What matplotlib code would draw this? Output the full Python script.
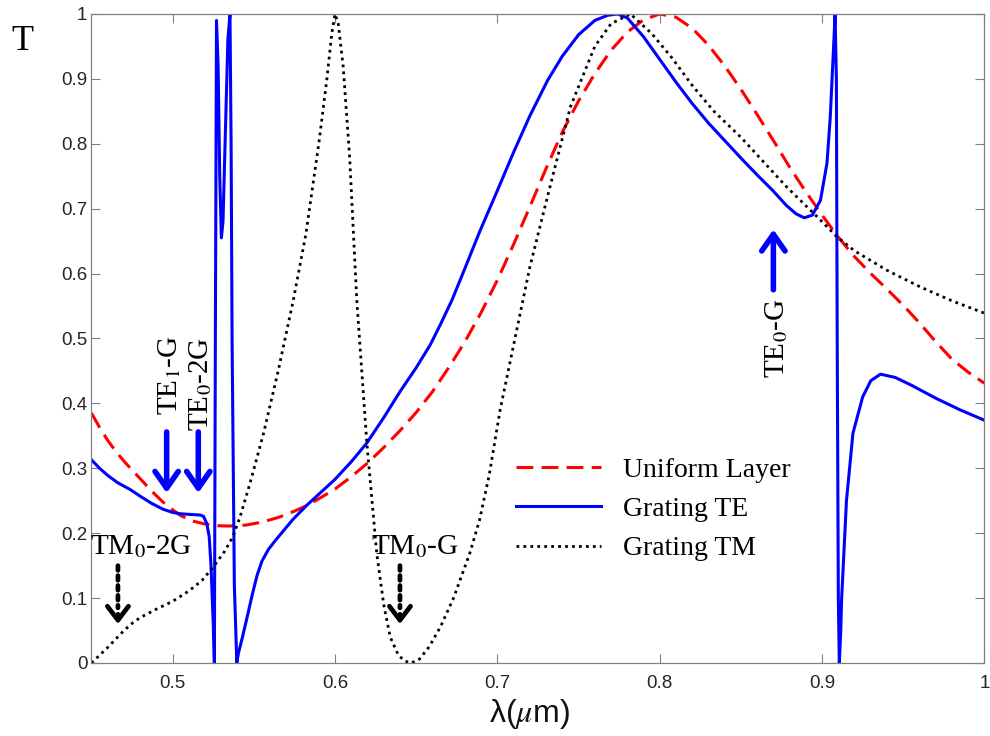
import matplotlib
matplotlib.use("Agg")
import matplotlib.pyplot as plt

# ---------------- data ----------------
uni_wl = [0.450, 0.455, 0.460, 0.465, 0.470, 0.474, 0.480, 0.487, 0.494, 0.500,
          0.505, 0.512, 0.520, 0.528, 0.535, 0.545, 0.555, 0.566, 0.575, 0.583,
          0.590, 0.600, 0.610, 0.620, 0.630, 0.640, 0.650, 0.660, 0.670, 0.680,
          0.690, 0.700, 0.710, 0.720, 0.730, 0.740, 0.750, 0.760, 0.770,
          0.780, 0.790, 0.800, 0.810, 0.820, 0.830, 0.840, 0.850, 0.860, 0.870,
          0.880, 0.890, 0.900, 0.910, 0.920, 0.930, 0.940, 0.950, 0.960, 0.970,
          0.980, 0.990, 1.000]
uni_T = [0.385, 0.363, 0.343, 0.326, 0.311, 0.300, 0.284, 0.265, 0.248, 0.236,
         0.227, 0.219, 0.214, 0.2115, 0.211, 0.2125, 0.217, 0.225, 0.234, 0.243,
         0.253, 0.268, 0.287, 0.308, 0.332, 0.358, 0.386, 0.418, 0.455, 0.495,
         0.540, 0.590, 0.645, 0.703, 0.762, 0.818, 0.866, 0.908, 0.944,
         0.972, 0.991, 1.000, 0.995, 0.978, 0.952, 0.920, 0.884, 0.845, 0.805,
         0.764, 0.726, 0.690, 0.656, 0.626, 0.600, 0.576, 0.551, 0.524, 0.495,
         0.468, 0.448, 0.431]

te_wl = [0.450, 0.455, 0.460, 0.466, 0.474, 0.480, 0.487, 0.494, 0.500, 0.5045,
         0.510, 0.5169, 0.519, 0.521, 0.5225, 0.5236, 0.5250, 0.5257, 0.5263, 0.5270,
         0.5280, 0.5290, 0.5300, 0.5310, 0.5325, 0.5340, 0.5353, 0.5360, 0.5366, 0.5380,
         0.5395, 0.5405, 0.5430, 0.5460, 0.5490, 0.5520, 0.5550, 0.5590, 0.5630, 0.5680,
         0.5740, 0.5826, 0.5900, 0.6000, 0.6100, 0.6196, 0.6300, 0.6400, 0.6500, 0.6586,
         0.6650, 0.6720, 0.6800, 0.6890, 0.7000, 0.7100, 0.7200, 0.7310, 0.7400, 0.7500,
         0.7600, 0.7680, 0.7740, 0.7800, 0.7900, 0.8000, 0.8100, 0.8200, 0.8300, 0.8400,
         0.8500, 0.8600, 0.8700, 0.8780, 0.8840, 0.8890, 0.8940, 0.8990, 0.9030, 0.9050,
         0.9070, 0.9080, 0.9088, 0.9093, 0.9100, 0.9106, 0.9115, 0.9120, 0.9150, 0.9190,
         0.9250, 0.9300, 0.9360, 0.9450, 0.9550, 0.9700, 0.9850, 1.0000]
te_T = [0.313, 0.300, 0.289, 0.278, 0.267, 0.257, 0.246, 0.237, 0.232, 0.230,
        0.229, 0.228, 0.226, 0.215, 0.195, 0.151, 0.060, 0.000, 0.500, 0.990,
        0.920, 0.750, 0.655, 0.680, 0.820, 0.960, 1.000, 0.800, 0.500, 0.120,
        0.000, 0.015, 0.040, 0.072, 0.105, 0.135, 0.157, 0.175, 0.188, 0.203,
        0.221, 0.243, 0.260, 0.283, 0.310, 0.339, 0.378, 0.418, 0.455, 0.490,
        0.522, 0.559, 0.608, 0.664, 0.728, 0.787, 0.843, 0.898, 0.935, 0.968,
        0.990, 0.998, 1.000, 0.994, 0.965, 0.930, 0.895, 0.862, 0.832, 0.805,
        0.778, 0.752, 0.727, 0.705, 0.692, 0.686, 0.690, 0.713, 0.770, 0.840,
        0.945, 1.000, 0.900, 0.500, 0.100, 0.000, 0.050, 0.097, 0.250, 0.354,
        0.410, 0.435, 0.445, 0.440, 0.428, 0.408, 0.390, 0.374]

tm_wl = [0.450, 0.455, 0.460, 0.465, 0.470, 0.475, 0.480, 0.490, 0.500, 0.510,
         0.518, 0.525, 0.532, 0.537, 0.5415, 0.548, 0.556, 0.565, 0.5743, 0.582,
         0.590, 0.595, 0.598, 0.600, 0.602, 0.605, 0.609, 0.6134, 0.6196, 0.6257,
         0.630, 0.634, 0.639, 0.643, 0.647, 0.652, 0.658, 0.665, 0.673, 0.683,
         0.689, 0.695, 0.7017, 0.710, 0.720, 0.731, 0.745, 0.760, 0.770, 0.782,
         0.795, 0.807, 0.820, 0.833, 0.850, 0.878, 0.900, 0.909, 0.920, 0.940,
         0.960, 0.980, 1.000]
tm_T = [0.000, 0.012, 0.024, 0.037, 0.050, 0.061, 0.070, 0.083, 0.095, 0.111,
        0.127, 0.148, 0.172, 0.194, 0.225, 0.280, 0.354, 0.450, 0.559, 0.660,
        0.800, 0.900, 0.970, 1.000, 0.985, 0.920, 0.780, 0.559, 0.339, 0.169,
        0.090, 0.040, 0.012, 0.003, 0.000, 0.006, 0.025, 0.056, 0.100, 0.169,
        0.220, 0.290, 0.390, 0.490, 0.610, 0.720, 0.857, 0.950, 0.985, 1.000,
        0.970, 0.934, 0.890, 0.851, 0.810, 0.734, 0.680, 0.657, 0.635, 0.605,
        0.580, 0.558, 0.539]

series_labels = ["Uniform Layer", "Grating TE", "Grating TM"]
xticks = [0.5, 0.6, 0.7, 0.8, 0.9, 1.0]
xtick_labels = ["0.5", "0.6", "0.7", "0.8", "0.9", "1"]
yticks = [0, 0.1, 0.2, 0.3, 0.4, 0.5, 0.6, 0.7, 0.8, 0.9, 1.0]
ytick_labels = ["0", "0.1", "0.2", "0.3", "0.4", "0.5", "0.6", "0.7", "0.8", "0.9", "1"]

# ---------------- figure ----------------
plt.rcParams["mathtext.fontset"] = "stix"
SERIF = ["Liberation Serif", "DejaVu Serif"]
SANS = ["Liberation Sans", "DejaVu Sans"]

fig = plt.figure(figsize=(9.9, 7.36), dpi=100)
ax = fig.add_axes([0.0924, 0.0992, 0.902, 0.8818])

ax.plot(uni_wl, uni_T, color="#ff0000", lw=2.2, dashes=(5.5, 2.7), label=series_labels[0])
ax.plot(te_wl, te_T, color="#0000ff", lw=2.2, label=series_labels[1])
ax.plot(tm_wl, tm_T, color="black", lw=2.0, linestyle=(0, (1, 1.5)), label=series_labels[2])

ax.set_xlim(0.45, 1.0)
ax.set_ylim(0, 1.0)
ax.set_xticks(xticks)
ax.set_xticklabels(xtick_labels)
ax.set_yticks(yticks)
ax.set_yticklabels(ytick_labels)
ax.tick_params(direction="in", length=6.5, width=0.8, color="#808080",
               top=True, right=True, labelsize=13.5, labelcolor="#262626")
ax.tick_params(axis="x", pad=9)
ax.tick_params(axis="y", pad=3)
for lab in ax.get_xticklabels() + ax.get_yticklabels():
    lab.set_family(SANS)
for sp in ax.spines.values():
    sp.set_color("#808080")
    sp.set_linewidth(0.9)

ax.set_xlabel(r"λ($\mu$m)", family=SANS, fontsize=23, color="#111111")
ax.xaxis.set_label_coords(0.49, -0.053)
fig.text(0.023, 0.944, "T", family=SERIF, fontsize=26, ha="center", va="center")

leg = ax.legend(loc="upper left", bbox_to_anchor=(0.463, 0.334), frameon=False,
                prop={"family": SERIF, "size": 20}, handlelength=3.05,
                handletextpad=0.8, labelspacing=0.5, borderaxespad=0)

# ---------------- annotations ----------------
blue_arrow = dict(arrowstyle="->,head_length=0.6,head_width=0.42", color="#0000ff",
                  lw=4.0, mutation_scale=20, shrinkA=0, shrinkB=0)
for xa in (0.4963, 0.5158):
    ax.annotate("", xy=(xa, 0.262), xytext=(xa, 0.356), arrowprops=blue_arrow)
ax.annotate("", xy=(0.870, 0.668), xytext=(0.870, 0.575), arrowprops=blue_arrow)

head = dict(arrowstyle="->,head_length=0.5,head_width=0.38", color="black",
            lw=3.4, mutation_scale=20, shrinkA=0, shrinkB=0)
shaft = dict(arrowstyle="-", color="black", lw=3.4, linestyle=(0, (1, 1.1)),
             shrinkA=0, shrinkB=0)
for xa in (0.4663, 0.640):
    ax.annotate("", xy=(xa, 0.085), xytext=(xa, 0.150), arrowprops=shaft)
    ax.annotate("", xy=(xa, 0.060), xytext=(xa, 0.075), arrowprops=head)

tfont = dict(family=SERIF, fontsize=21, ha="center", va="center")
ax.text(0.4984, 0.444, r"TE$_1$-G", rotation=90, **tfont)
ax.text(0.5175, 0.430, r"TE$_0$-2G", rotation=90, **tfont)
ax.text(0.8718, 0.500, r"TE$_0$-G", rotation=90, **tfont)
ax.text(0.4806, 0.180, r"TM$_0$-2G", **tfont)
ax.text(0.6493, 0.179, r"TM$_0$-G", **tfont)

fig.savefig("out.png", dpi=100)
